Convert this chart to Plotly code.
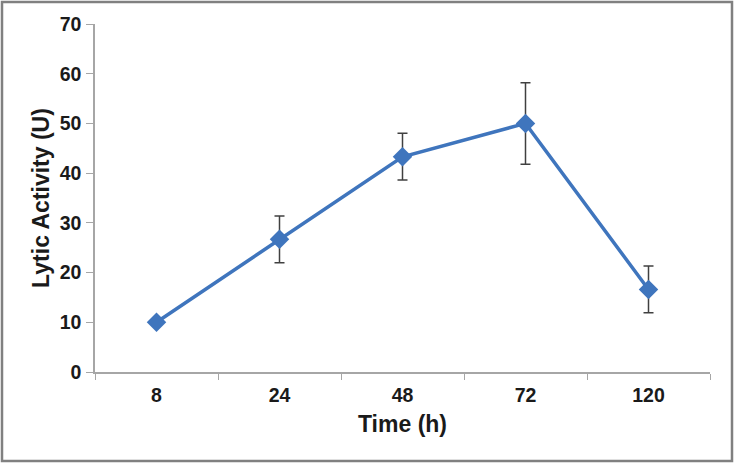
import plotly.graph_objects as go

time_labels = ["8", "24", "48", "72", "120"]
lytic_activity = [10.0, 26.7, 43.3, 50.0, 16.6]
error_values = [0.0, 4.7, 4.7, 8.2, 4.7]
y_ticks = [0, 10, 20, 30, 40, 50, 60, 70]

L, R, T, B = 95, 24, 24, 91
W, H = 734, 463
pw, ph = W - L - R, H - T - B

fig = go.Figure()
fig.add_trace(go.Scatter(
    x=time_labels, y=lytic_activity,
    mode="lines+markers",
    line=dict(color="#3f75bd", width=3.5),
    marker=dict(symbol="diamond", size=15, color="#3f75bd"),
    error_y=dict(type="data", array=error_values, visible=True,
                 color="#404040", thickness=1.5, width=5),
    showlegend=False,
))

axis_color = "#a6a6a6"
font_fam = "Arial, Liberation Sans, sans-serif"
fig.update_layout(
    width=W, height=H,
    margin=dict(l=L, r=R, t=T, b=B),
    paper_bgcolor="white", plot_bgcolor="white",
    font=dict(family=font_fam, color="#1a1a1a"),
    xaxis=dict(
        type="category", range=[-0.5, 4.5],
        tickson="boundaries", ticks="outside", ticklen=6, tickcolor=axis_color,
        showline=True, linecolor=axis_color, linewidth=1.5,
        showgrid=False, zeroline=False, ticklabelstandoff=5,
        tickfont=dict(size=19.5, family=font_fam, weight="bold"),
        title=dict(text="<b>Time (h)</b>", font=dict(size=23, family=font_fam), standoff=11),
    ),
    yaxis=dict(
        range=[0, 70], tickvals=y_ticks,
        ticks="outside", ticklen=7, tickcolor=axis_color,
        showline=True, linecolor=axis_color, linewidth=1.5,
        showgrid=False, zeroline=False, ticklabelstandoff=1,
        tickfont=dict(size=19.5, family=font_fam, weight="bold"),
        title=dict(text="<b>Lytic Activity (U)</b>", font=dict(size=23, family=font_fam), standoff=4),
    ),
    shapes=[dict(
        type="rect", xref="paper", yref="paper",
        x0=(2 - L) / pw, x1=(732 - L) / pw,
        y0=(H - B - 461) / ph, y1=(H - B - 2) / ph,
        line=dict(color="#808080", width=2.5), fillcolor="rgba(0,0,0,0)",
        layer="below",
    )],
)

fig.write_html("out.html", config={"displayModeBar": False},
               post_script="document.body.style.margin='0';document.body.style.padding='0';")
